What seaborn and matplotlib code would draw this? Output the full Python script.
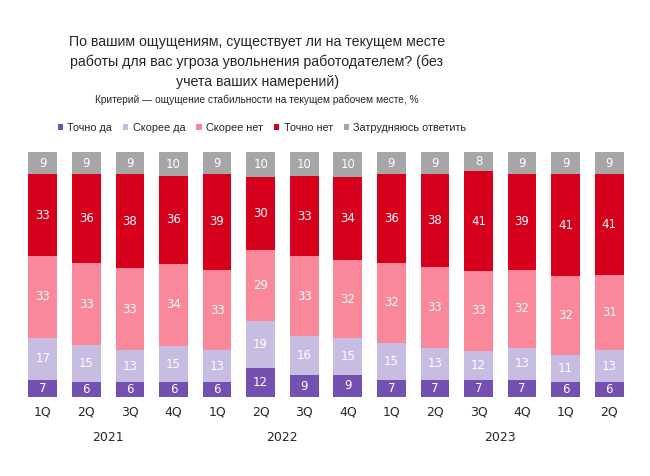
import numpy as np
import pandas as pd
import matplotlib
matplotlib.use("Agg")
import matplotlib.pyplot as plt
import seaborn as sns

quarters = ["1Q", "2Q", "3Q", "4Q", "1Q", "2Q", "3Q", "4Q", "1Q", "2Q", "3Q", "4Q", "1Q", "2Q"]
years = ["2021", "2022", "2023"]
series = ["Точно да", "Скорее да", "Скорее нет", "Точно нет", "Затрудняюсь ответить"]
tochno_da   = [7, 6, 6, 6, 6, 12, 9, 9, 7, 7, 7, 7, 6, 6]
skoree_da   = [17, 15, 13, 15, 13, 19, 16, 15, 15, 13, 12, 13, 11, 13]
skoree_net  = [33, 33, 33, 34, 33, 29, 33, 32, 32, 33, 33, 32, 32, 31]
tochno_net  = [33, 36, 38, 36, 39, 30, 33, 34, 36, 38, 41, 39, 41, 41]
zatrud      = [9, 9, 9, 10, 9, 10, 10, 10, 9, 9, 8, 9, 9, 9]
colors = ["#7450B0", "#C7BCE2", "#F9889A", "#D6001C", "#A6A6A6"]

sns.set_theme(style="white")
plt.rcParams['font.family'] = ['DejaVu Sans']
narrow = ["Liberation Sans", "DejaVu Sans"]

data = np.array([tochno_da, skoree_da, skoree_net, tochno_net, zatrud], dtype=float)
totals = data.sum(axis=0)
norm = data / totals * 100

fig = plt.figure(figsize=(6.5, 4.76), dpi=100)
ax = fig.add_axes([21/650, 1 - 397/476, (631-21)/650, 245/476])

idx = np.arange(len(quarters))
bottom = np.zeros(len(quarters))
for i, name in enumerate(series):
    df = pd.DataFrame({"x": idx, "y": norm[i]})
    sns.barplot(data=df, x="x", y="y", color=colors[i], bottom=bottom,
                width=0.66, ax=ax, saturation=1, linewidth=0, label=name)
    for j in idx:
        ax.text(j, bottom[j] + norm[i][j] / 2, f"{int(data[i][j])}", ha="center", va="center",
                color="white", fontsize=8.5)
    bottom = bottom + norm[i]

handles, labels = ax.get_legend_handles_labels()
if ax.get_legend() is not None:
    ax.get_legend().remove()

ax.set_xlim(-0.5, len(quarters) - 0.5)
ax.set_ylim(0, 100)
ax.set_xticks(idx)
ax.set_xticklabels(quarters, fontsize=9)
ax.tick_params(axis="x", length=0, pad=6)
ax.set_yticks([])
ax.set_xlabel("")
ax.set_ylabel("")
for s in ax.spines.values():
    s.set_visible(False)

year_pos = [1.5, 5.5, 10.5]
for y, p in zip(years, year_pos):
    ax.text(p, -16.5, y, ha="center", va="center", fontsize=9, transform=ax.transData, clip_on=False)

fig.text(257/650, 1 - 62/476, "По вашим ощущениям, существует ли на текущем месте\nработы для вас угроза увольнения работодателем? (без\nучета ваших намерений)",
         ha="center", va="center", fontsize=10.2, linespacing=1.5, family=narrow)
fig.text(257/650, 1 - 100/476, "Критерий — ощущение стабильности на текущем рабочем месте, %",
         ha="center", va="center", fontsize=7.3, family=narrow)

fig.legend(handles, labels, loc="center", bbox_to_anchor=(262/650, 1 - 128/476), ncol=5,
           frameon=False, prop={"family": narrow, "size": 7.8},
           handlelength=0.5, handleheight=0.5, handletextpad=0.4, columnspacing=1.0)

fig.savefig("out.png", dpi=100, facecolor="white")
